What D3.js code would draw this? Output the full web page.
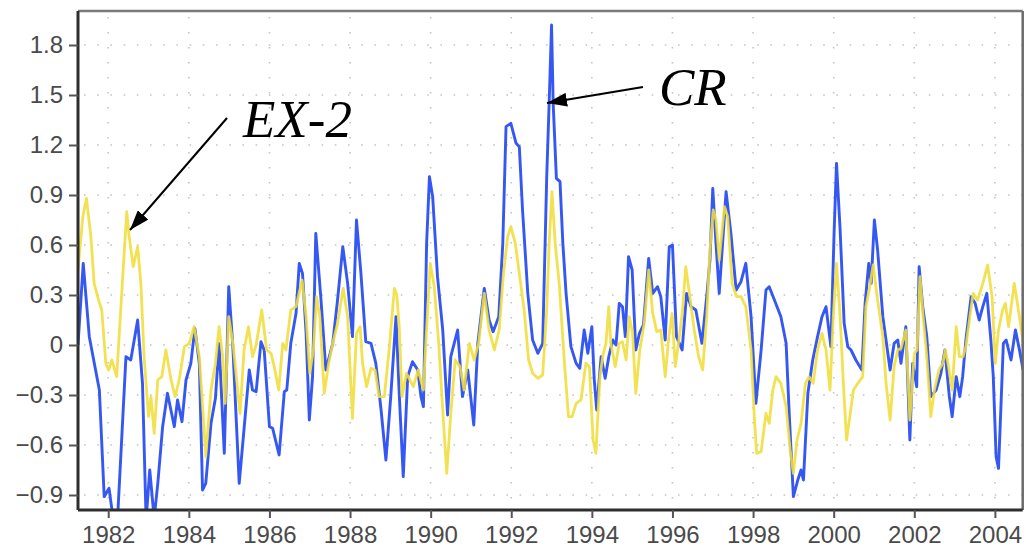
<!DOCTYPE html>
<html>
<head>
<meta charset="utf-8">
<script src="https://cdn.jsdelivr.net/npm/d3@7/dist/d3.min.js"></script>
<style>
  html, body { margin: 0; padding: 0; background: #fff; }
  svg { display: block; }
</style>
</head>
<body>
<svg id="chart" width="1026" height="550"></svg>
<script>
// Monthly anomaly series, vertices as (decimal year, value)
const crYears = [
  1981.25,1981.38,1981.53,1981.78,1981.90,1982.02,1982.11,1982.23,1982.44,1982.56,
  1982.73,1982.85,1982.94,1983.03,1983.14,1983.23,1983.35,1983.47,1983.64,1983.72,
  1983.83,1983.93,1984.05,1984.15,1984.26,1984.34,1984.42,1984.55,1984.66,1984.75,
  1984.88,1984.99,1985.09,1985.25,1985.50,1985.58,1985.67,1985.79,1985.87,1986.00,
  1986.08,1986.24,1986.37,1986.43,1986.53,1986.66,1986.74,1986.82,1986.91,1986.99,
  1987.07,1987.15,1987.28,1987.40,1987.57,1987.69,1987.82,1987.94,1988.06,1988.16,
  1988.27,1988.39,1988.52,1988.64,1988.77,1988.89,1989.01,1989.14,1989.22,1989.32,
  1989.43,1989.55,1989.68,1989.76,1989.82,1989.90,1989.97,1990.05,1990.17,1990.30,
  1990.42,1990.50,1990.67,1990.79,1990.92,1991.07,1991.17,1991.33,1991.45,1991.55,
  1991.69,1991.79,1991.87,1991.99,1992.12,1992.20,1992.28,1992.41,1992.53,1992.66,
  1992.78,1992.88,1992.94,1993.00,1993.04,1993.12,1993.21,1993.28,1993.36,1993.48,
  1993.61,1993.70,1993.81,1993.90,1994.00,1994.06,1994.12,1994.23,1994.33,1994.42,
  1994.52,1994.60,1994.68,1994.76,1994.83,1994.91,1995.00,1995.09,1995.18,1995.28,
  1995.41,1995.51,1995.63,1995.71,1995.82,1995.92,1996.00,1996.10,1996.24,1996.35,
  1996.46,1996.58,1996.73,1996.85,1996.93,1997.00,1997.08,1997.16,1997.33,1997.45,
  1997.58,1997.70,1997.82,1997.95,1998.07,1998.20,1998.32,1998.40,1998.53,1998.69,
  1998.82,1998.90,1999.00,1999.11,1999.19,1999.25,1999.36,1999.48,1999.60,1999.71,
  1999.81,1999.93,2000.01,2000.07,2000.16,2000.26,2000.35,2000.43,2000.55,2000.70,
  2000.78,2000.87,2000.93,2001.01,2001.09,2001.22,2001.40,2001.50,2001.59,2001.67,
  2001.79,2001.89,2001.96,2002.06,2002.12,2002.21,2002.31,2002.41,2002.54,2002.66,
  2002.76,2002.87,2002.94,2003.04,2003.13,2003.20,2003.28,2003.41,2003.51,2003.61,
  2003.70,2003.80,2003.90,2003.96,2004.03,2004.09,2004.15,2004.21,2004.28,2004.40,
  2004.51,2004.61,2004.70
];
const crValues = [
   0.00, 0.49, 0.05,-0.27,-0.91,-0.86,-1.02,-1.05,-0.07,-0.09,
   0.15,-0.23,-1.05,-0.75,-1.04,-0.83,-0.49,-0.29,-0.49,-0.33,
  -0.46,-0.21,-0.11, 0.10,-0.11,-0.87,-0.83,-0.47,-0.32, 0.01,
  -0.65, 0.35, 0.00,-0.83,-0.15,-0.27,-0.28, 0.02,-0.03,-0.49,
  -0.50,-0.66,-0.28,-0.27, 0.01, 0.19, 0.49, 0.43, 0.07,-0.45,
  -0.19, 0.67, 0.27,-0.15, 0.01, 0.27, 0.59, 0.37, 0.05, 0.75,
   0.43, 0.02, 0.01,-0.11,-0.39,-0.69,-0.31, 0.17,-0.29,-0.79,
  -0.19,-0.10,-0.15,-0.31,-0.37, 0.61, 1.01, 0.89, 0.41, 0.09,
  -0.42,-0.07, 0.09,-0.31,-0.15,-0.48, 0.01, 0.34, 0.15, 0.08,
   0.17, 0.61, 1.31, 1.33, 1.21, 1.19, 0.81, 0.31, 0.03,-0.05,
   0.01, 1.01, 1.45, 1.92, 1.45, 1.00, 0.98, 0.61, 0.31,-0.01,
  -0.11,-0.14, 0.09,-0.05, 0.11,-0.21,-0.39,-0.07,-0.20,-0.07,
   0.03, 0.00, 0.25, 0.23, 0.05, 0.53, 0.45,-0.03, 0.07, 0.12,
   0.52, 0.31, 0.35, 0.29, 0.03, 0.59, 0.60, 0.05,-0.03, 0.31,
   0.23, 0.21, 0.01, 0.29, 0.51, 0.94, 0.61, 0.31, 0.92, 0.67,
   0.33, 0.38, 0.49, 0.17,-0.35,-0.03, 0.33, 0.35, 0.27, 0.17,
   0.01,-0.43,-0.91,-0.81,-0.75,-0.81,-0.29,-0.09, 0.05, 0.17,
   0.23,-0.01, 0.67, 1.09, 0.69, 0.13,-0.01,-0.03,-0.09,-0.15,
   0.25, 0.49, 0.37, 0.75, 0.57, 0.17,-0.15, 0.01, 0.03,-0.11,
   0.11,-0.57,-0.11,-0.25, 0.47, 0.23, 0.05,-0.31,-0.27,-0.17,
  -0.03,-0.31,-0.43,-0.19,-0.31,-0.19, 0.03, 0.29, 0.25, 0.15,
   0.23, 0.31, 0.03,-0.19,-0.67,-0.74,-0.37, 0.01, 0.03,-0.09,
   0.09,-0.03,-0.15
];

const exYears = [
  1981.25,1981.37,1981.46,1981.57,1981.65,1981.76,1981.84,1981.94,1982.01,1982.09,
  1982.21,1982.36,1982.46,1982.52,1982.62,1982.73,1982.81,1982.89,1983.00,1983.06,
  1983.14,1983.23,1983.33,1983.43,1983.56,1983.66,1983.76,1983.89,1984.01,1984.13,
  1984.26,1984.38,1984.42,1984.55,1984.66,1984.75,1984.84,1984.90,1984.99,1985.10,
  1985.27,1985.37,1985.48,1985.58,1985.67,1985.81,1985.93,1986.04,1986.12,1986.23,
  1986.33,1986.41,1986.53,1986.66,1986.81,1986.91,1987.00,1987.09,1987.17,1987.25,
  1987.36,1987.47,1987.57,1987.69,1987.83,1987.94,1988.06,1988.16,1988.25,1988.31,
  1988.41,1988.52,1988.62,1988.72,1988.85,1988.97,1989.10,1989.16,1989.22,1989.29,
  1989.40,1989.57,1989.69,1989.82,1989.88,1989.99,1990.09,1990.20,1990.30,1990.40,
  1990.50,1990.61,1990.73,1990.83,1990.96,1991.08,1991.19,1991.33,1991.45,1991.58,
  1991.70,1991.80,1991.91,1991.99,1992.10,1992.20,1992.32,1992.43,1992.53,1992.66,
  1992.78,1992.88,1992.94,1993.01,1993.09,1993.19,1993.32,1993.42,1993.51,1993.61,
  1993.73,1993.85,1993.94,1994.03,1994.10,1994.20,1994.27,1994.35,1994.42,1994.47,
  1994.58,1994.68,1994.76,1994.85,1994.93,1995.01,1995.09,1995.19,1995.30,1995.41,
  1995.51,1995.61,1995.71,1995.82,1995.91,1995.99,1996.07,1996.17,1996.25,1996.33,
  1996.42,1996.54,1996.65,1996.75,1996.85,1996.93,1997.01,1997.08,1997.16,1997.29,
  1997.37,1997.48,1997.59,1997.70,1997.82,1997.95,1998.03,1998.09,1998.20,1998.32,
  1998.40,1998.49,1998.57,1998.69,1998.82,1998.92,1999.00,1999.09,1999.19,1999.30,
  1999.39,1999.49,1999.60,1999.71,1999.81,1999.91,1999.99,2000.07,2000.16,2000.24,
  2000.32,2000.40,2000.49,2000.60,2000.72,2000.80,2000.88,2000.98,2001.09,2001.22,
  2001.30,2001.40,2001.50,2001.59,2001.67,2001.79,2001.89,2002.00,2002.07,2002.14,
  2002.22,2002.31,2002.41,2002.50,2002.61,2002.71,2002.77,2002.85,2002.94,2003.04,
  2003.12,2003.21,2003.28,2003.38,2003.46,2003.57,2003.70,2003.82,2003.93,2004.01,
  2004.09,2004.19,2004.26,2004.34,2004.48,2004.61,2004.70
];
const exValues = [
   0.45, 0.77, 0.88, 0.65, 0.37, 0.27, 0.21,-0.11,-0.15,-0.09,
  -0.19, 0.41, 0.80, 0.65, 0.47, 0.59, 0.37,-0.07,-0.43,-0.31,
  -0.53,-0.21,-0.19,-0.03,-0.21,-0.31,-0.21,-0.01, 0.01, 0.11,
  -0.07,-0.51,-0.67,-0.27,-0.11, 0.11,-0.07,-0.35, 0.17, 0.00,
  -0.41,-0.03, 0.11,-0.07, 0.00, 0.21,-0.03,-0.05,-0.13,-0.27,
   0.01,-0.03, 0.21, 0.23, 0.39, 0.17,-0.17,-0.03, 0.29, 0.17,
  -0.29,-0.11, 0.01, 0.13, 0.34, 0.17,-0.44, 0.07, 0.11,-0.11,
  -0.25,-0.14,-0.15,-0.31,-0.31,-0.03, 0.34, 0.30, 0.11,-0.31,
  -0.17,-0.25,-0.15,-0.27, 0.01, 0.49, 0.35, 0.01,-0.39,-0.77,
  -0.41,-0.09,-0.13,-0.27, 0.01,-0.09, 0.01, 0.31, 0.09,-0.03,
   0.09, 0.41, 0.65, 0.71, 0.61, 0.43, 0.21,-0.09,-0.17,-0.20,
  -0.18, 0.21, 0.61, 0.92, 0.61, 0.37,-0.11,-0.43,-0.43,-0.35,
  -0.33,-0.11,-0.13,-0.57,-0.65,-0.19,-0.07, 0.01, 0.23, 0.01,
  -0.13, 0.01, 0.02,-0.09, 0.17, 0.07,-0.29,-0.03, 0.13, 0.45,
   0.19, 0.08, 0.09,-0.19, 0.05, 0.19,-0.13, 0.05, 0.21, 0.47,
   0.31, 0.09,-0.07,-0.15, 0.17, 0.57, 0.81, 0.75, 0.51, 0.83,
   0.77, 0.37, 0.29, 0.29, 0.23,-0.03,-0.43,-0.65,-0.64,-0.41,
  -0.47,-0.27,-0.19,-0.23,-0.37,-0.63,-0.77,-0.57,-0.47,-0.23,
  -0.19,-0.23,-0.03, 0.07,-0.03,-0.27, 0.17, 0.49, 0.17,-0.23,
  -0.57,-0.43,-0.27,-0.23,-0.19, 0.23, 0.33, 0.48, 0.27, 0.05,
  -0.23,-0.45,-0.13,-0.03,-0.02, 0.09,-0.45,-0.05,-0.03, 0.41,
   0.17,-0.07,-0.43,-0.27,-0.15,-0.11,-0.03,-0.13,-0.27, 0.11,
  -0.07,-0.07,-0.01, 0.17, 0.31, 0.27, 0.37, 0.48, 0.29,-0.11,
   0.09, 0.21, 0.25, 0.11, 0.37, 0.17, 0.01
];

const yTickValues = [-0.9, -0.6, -0.3, 0, 0.3, 0.6, 0.9, 1.2, 1.5, 1.8];
const xTickValues = [1982, 1984, 1986, 1988, 1990, 1992, 1994, 1996, 1998, 2000, 2002, 2004];

const labels = [
  { text: "EX-2", x0: 227, y0: 118, x1: 130, y1: 230, tx: 243, ty: 137 },
  { text: "CR",   x0: 643, y0: 87,  x1: 547, y1: 103, tx: 659, ty: 105 }
];

// ---- layout ----
const plotLeft = 78, plotRight = 1022.7, plotTop = 11, plotBottom = 510;

const svg = d3.select("#chart");

const x = d3.scaleLinear().domain([1981.25, 2004.69]).range([plotLeft, plotRight]);
const y = d3.scaleLinear().domain([-0.99, 2.004]).range([plotBottom, plotTop]);

const defs = svg.append("defs");
defs.append("clipPath").attr("id", "plotClip")
  .append("rect")
  .attr("x", plotLeft).attr("y", plotTop)
  .attr("width", plotRight - plotLeft).attr("height", plotBottom - plotTop);

defs.append("filter").attr("id", "soft")
  .attr("x", "-2%").attr("y", "-2%").attr("width", "104%").attr("height", "104%")
  .append("feGaussianBlur").attr("stdDeviation", 0.55);

defs.append("marker")
  .attr("id", "arrowHead")
  .attr("viewBox", "0 0 20 14")
  .attr("refX", 20).attr("refY", 7)
  .attr("markerWidth", 20).attr("markerHeight", 14)
  .attr("markerUnits", "userSpaceOnUse")
  .attr("orient", "auto")
  .append("path")
  .attr("d", "M0,0 L20,7 L0,14 Z")
  .attr("fill", "#000");

// dotted grid
const grid = svg.append("g").attr("stroke", "#c4c4c4").attr("stroke-width", 1.6);
grid.selectAll("line.h").data(yTickValues).join("line")
  .attr("class", "h")
  .attr("x1", plotLeft + 6).attr("x2", plotRight)
  .attr("y1", d => y(d)).attr("y2", d => y(d))
  .attr("stroke-dasharray", "1.6,11.6");
grid.selectAll("line.v").data(xTickValues).join("line")
  .attr("class", "v")
  .attr("x1", d => x(d)).attr("x2", d => x(d))
  .attr("y1", plotTop + 6).attr("y2", plotBottom)
  .attr("stroke-dasharray", "1.6,13.4");

// series
const lineGen = (xs, vs) => d3.line()
  .x((d, i) => x(xs[i]))
  .y(d => y(d))(vs);

const plot = svg.append("g").attr("clip-path", "url(#plotClip)");
const lines = plot.append("g").attr("filter", "url(#soft)");
lines.append("path")
  .attr("d", lineGen(crYears, crValues))
  .attr("fill", "none")
  .attr("stroke", "#3558f2")
  .attr("stroke-width", 2.9)
  .attr("stroke-linejoin", "round");
lines.append("path")
  .attr("d", lineGen(exYears, exValues))
  .attr("fill", "none")
  .attr("stroke", "#f0de3a")
  .attr("stroke-width", 2.8)
  .attr("stroke-opacity", 0.88)
  .attr("stroke-linejoin", "round");

// frame
svg.append("line").attr("x1", plotLeft).attr("x2", plotRight).attr("y1", plotTop).attr("y2", plotTop)
  .attr("stroke", "#7a7a7a").attr("stroke-width", 2.5);
svg.append("line").attr("x1", plotRight).attr("x2", plotRight).attr("y1", plotTop).attr("y2", plotBottom)
  .attr("stroke", "#6a6a6a").attr("stroke-width", 2.5);

// axes
const fmt = d => d === 0 ? "0" : d3.format(".1f")(d);
const yAxis = svg.append("g")
  .attr("transform", `translate(${plotLeft},0)`)
  .call(d3.axisLeft(y).tickValues(yTickValues).tickFormat(fmt).tickSize(9).tickPadding(6));
const xAxis = svg.append("g")
  .attr("transform", `translate(0,${plotBottom})`)
  .call(d3.axisBottom(x).tickValues(xTickValues).tickFormat(d3.format("d")).tickSize(8).tickPadding(8));

[yAxis, xAxis].forEach(g => {
  g.select(".domain").attr("stroke", "#2e2e2e").attr("stroke-width", 3);
  g.selectAll(".tick line").attr("stroke", "#555").attr("stroke-width", 2);
  g.selectAll(".tick text")
    .attr("fill", "#4a4a4a")
    .style("font-family", "'Liberation Sans', Arial, sans-serif")
    .style("font-size", "24px");
});
xAxis.select(".domain").attr("d", `M${plotLeft},0H${plotRight}`);
yAxis.select(".domain").attr("d", `M0,${plotTop}V${plotBottom}`);

// annotations
const ann = svg.append("g");
labels.forEach(l => {
  ann.append("line")
    .attr("x1", l.x0).attr("y1", l.y0).attr("x2", l.x1).attr("y2", l.y1)
    .attr("stroke", "#000").attr("stroke-width", 2)
    .attr("marker-end", "url(#arrowHead)");
  ann.append("text")
    .attr("x", l.tx).attr("y", l.ty)
    .text(l.text)
    .style("font-family", "'Liberation Serif', 'Times New Roman', serif")
    .style("font-style", "italic")
    .style("font-size", "53px")
    .attr("fill", "#000");
});
</script>
</body>
</html>
